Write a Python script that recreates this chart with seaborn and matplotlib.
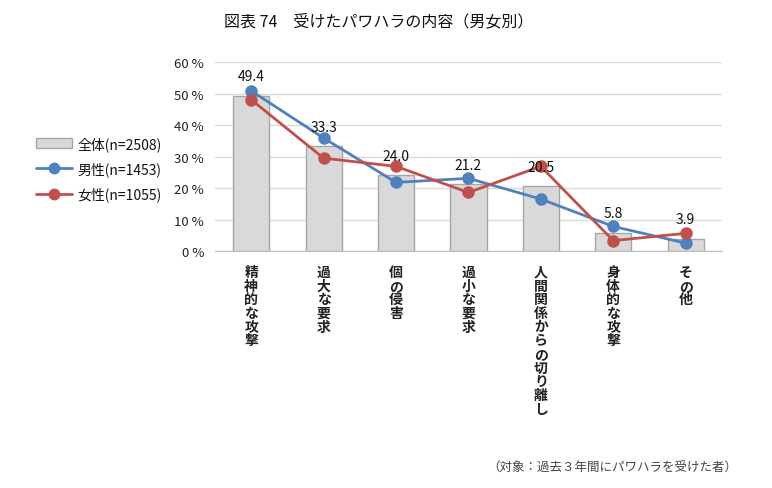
import pandas as pd
import matplotlib.pyplot as plt
import seaborn as sns
from matplotlib.patches import Patch
from matplotlib.lines import Line2D

# data
categories = ['精神的な攻撃', '過大な要求', '個の侵害', '過小な要求', '人間関係からの切り離し', '身体的な攻撃', 'その他']
total = [49.4, 33.3, 24.0, 21.2, 20.5, 5.8, 3.9]
male = [50.9, 35.9, 21.8, 23.1, 16.5, 7.8, 2.5]
female = [48.1, 29.5, 26.9, 18.6, 26.9, 3.3, 5.6]
series_labels = ['全体(n=2508)', '男性(n=1453)', '女性(n=1055)']
y_ticks = [0, 10, 20, 30, 40, 50, 60]

sns.set_style('white')
plt.rcParams['font.family'] = ['Noto Sans CJK JP', 'DejaVu Sans']

blue = '#4f81bd'
red = '#c0504d'

df_bar = pd.DataFrame({'item': categories, 'value': total})
df_line = pd.DataFrame({
    'item': categories * 2,
    'value': male + female,
    'sex': [series_labels[1]] * len(categories) + [series_labels[2]] * len(categories),
})

fig = plt.figure(figsize=(7.72, 4.89), dpi=100)
ax = fig.add_axes([0.2785, 0.4847, 0.6565, 0.386])

# bars for the overall group
sns.barplot(data=df_bar, x='item', y='value', order=categories, color='#d9d9d9',
            edgecolor='#a6a6a6', linewidth=1, width=0.5, saturation=1, ax=ax, zorder=2)

# lines for male / female
sns.pointplot(data=df_line, x='item', y='value', hue='sex', order=categories,
              palette=[blue, red], markers='o', markersize=7.5, linewidth=2,
              errorbar=None, ax=ax, legend=False)
for coll in ax.collections:
    coll.set_zorder(4)
for ln in ax.lines:
    ln.set_zorder(3)

# data labels above bars
for i, v in enumerate(total):
    ax.annotate(f'{v:.1f}', (i, v), xytext=(0, 9), textcoords='offset points',
                ha='center', va='bottom', fontsize=10, color='#111111', zorder=5)

ax.set_xlim(-0.5, len(categories) - 0.5)
ax.set_ylim(0, 60)
ax.set_yticks(y_ticks)
ax.set_yticklabels([f'{t} %' for t in y_ticks], fontsize=9.5, color='#222222')
ax.yaxis.grid(True, color='#d9d9d9', linewidth=1)
ax.set_axisbelow(True)
for s in ['left', 'right', 'top']:
    ax.spines[s].set_visible(False)
ax.spines['bottom'].set_color('#bfbfbf')
ax.tick_params(axis='y', length=0, pad=8)
ax.tick_params(axis='x', length=0)
ax.set_xlabel('')
ax.set_ylabel('')

# vertical (stacked) category labels
ax.set_xticks(range(len(categories)))
ax.set_xticklabels(['\n'.join(c) for c in categories], fontsize=10, fontweight='bold',
                   linespacing=0.97, color='#222222', va='top')
ax.tick_params(axis='x', pad=10)

# legend on the left
handles = [Patch(facecolor='#d9d9d9', edgecolor='#a6a6a6'),
           Line2D([0], [0], color=blue, lw=2, marker='o', markersize=7.5),
           Line2D([0], [0], color=red, lw=2, marker='o', markersize=7.5)]
fig.legend(handles, series_labels, loc='upper left', bbox_to_anchor=(0.03, 0.745),
           frameon=False, fontsize=10, handlelength=2.6, labelspacing=0.75,
           handletextpad=0.4, labelcolor='#111111')

fig.text(0.49, 0.955, '図表 74　受けたパワハラの内容（男女別）', ha='center', va='center',
         fontsize=11.5, color='#111111')
fig.text(0.955, 0.043, '（対象：過去３年間にパワハラを受けた者）', ha='right', va='center',
         fontsize=9, color='#444444')

plt.savefig('out.png', dpi=100)
